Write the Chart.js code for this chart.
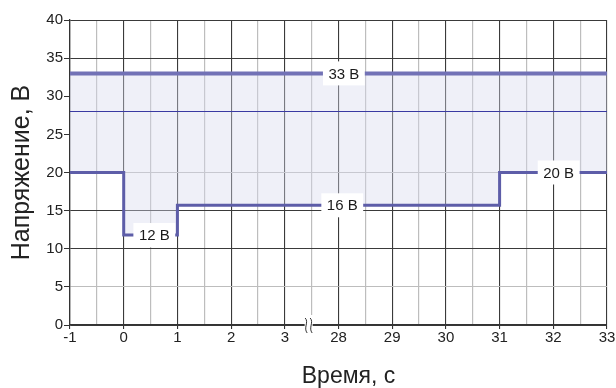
<!DOCTYPE html>
<html>
<head>
<meta charset="utf-8">
<script src="https://cdn.jsdelivr.net/npm/chart.js@4/dist/chart.umd.min.js"></script>
<style>
  html, body { margin: 0; padding: 0; background: #fff; }
  #wrap { width: 616px; height: 388px; }
</style>
</head>
<body>
<div id="wrap"><canvas id="chart" width="616" height="388"></canvas></div>
<script>
// Voltage over time, x axis broken between 3 s and 28 s
const xTickLabels = ['-1', '0', '1', '2', '3', '28', '29', '30', '31', '32', '33'];
const yTicks = [0, 5, 10, 15, 20, 25, 30, 35, 40];

const upperTime = [-1, 33];
const upperVolts = [33, 33];
const midTime = [-1, 33];
const midVolts = [28, 28];
const lowerTime = [-1, 0, 0, 1, 1, 31, 31, 33];
const lowerVolts = [20, 20, 11.8, 11.8, 15.7, 15.7, 20, 20];

const noteTexts = ['33 В', '16 В', '12 В', '20 В'];
const noteTime = [28.1, 28.07, 0.57, 32.1];
const noteVolts = [33, 15.7, 11.8, 20];

const X_TITLE = 'Время, с';

const BREAK_AT = 3.5;   // axis position of the break
const GAP = 24;         // seconds cut out of the axis

function pos(t) {
    return t > BREAK_AT ? t - GAP : t;
}

function toPoints(times, volts) {
    return times.map((t, i) => ({ x: pos(t), y: volts[i] }));
}

const FONT = '"Liberation Sans", Arial, Helvetica, sans-serif';

const notesPlugin = {
    id: 'notes',
    afterDatasetsDraw(chart) {
        const { ctx, scales } = chart;
        const xs = scales.x, ys = scales.y;
        ctx.save();
        ctx.font = '15px ' + FONT;
        ctx.textAlign = 'center';
        ctx.textBaseline = 'middle';
        noteTexts.forEach((txt, i) => {
            const cx = xs.getPixelForValue(pos(noteTime[i]));
            const cy = ys.getPixelForValue(noteVolts[i]);
            const w = ctx.measureText(txt).width + 11;
            ctx.fillStyle = '#fff';
            ctx.fillRect(cx - w / 2, cy - 12, w, 24);
            ctx.fillStyle = '#1a1a1a';
            ctx.fillText(txt, cx, cy + 1);
        });

        // break mark on the x axis
        const bx = xs.getPixelForValue(BREAK_AT) - 3;
        const by = ys.getPixelForValue(0);
        ctx.fillStyle = '#fff';
        ctx.fillRect(bx - 6, by - 10, 12, 9);
        ctx.fillRect(bx - 4, by - 2, 8, 4);
        ctx.strokeStyle = '#333';
        ctx.lineWidth = 1;
        [-2.5, 2.5].forEach(dx => {
            const x = bx + dx;
            ctx.beginPath();
            ctx.moveTo(x - 1, by - 7);
            ctx.bezierCurveTo(x + 3, by - 3, x - 3, by + 3, x + 1, by + 8);
            ctx.stroke();
        });

        // x axis title sits a little right of centre in the original
        ctx.font = '23px ' + FONT;
        ctx.fillStyle = '#222';
        ctx.fillText(X_TITLE, (xs.left + xs.right) / 2 + 10, 377);
        ctx.restore();
    }
};

new Chart(document.getElementById('chart'), {
    type: 'scatter',
    data: {
        datasets: [
            {
                label: 'lower',
                data: toPoints(lowerTime, lowerVolts),
                showLine: true,
                borderColor: '#5d5da8',
                borderWidth: 3,
                pointRadius: 0,
                fill: false,
                order: 1
            },
            {
                label: 'upper',
                data: toPoints(upperTime, upperVolts),
                showLine: true,
                borderColor: '#7272b6',
                borderWidth: 4,
                pointRadius: 0,
                fill: { target: 0 },
                backgroundColor: 'rgba(215, 218, 238, 0.4)',
                order: 2
            },
            {
                label: 'mid',
                data: toPoints(midTime, midVolts),
                showLine: true,
                borderColor: '#3a3aa2',
                borderWidth: 1.2,
                pointRadius: 0,
                fill: false,
                order: 0
            }
        ]
    },
    options: {
        responsive: false,
        animation: false,
        layout: { padding: { left: 0, right: 9, top: 20, bottom: 0 } },
        plugins: {
            legend: { display: false },
            tooltip: { enabled: false }
        },
        scales: {
            x: {
                type: 'linear',
                min: -1,
                max: 9,
                afterFit: s => { s.height = 63; },
                afterBuildTicks: s => {
                    const t = [];
                    for (let v = -1; v <= 9; v += 0.5) t.push({ value: v });
                    s.ticks = t;
                },
                border: { color: '#333', width: 1.3 },
                grid: {
                    color: c => Number.isInteger(c.tick.value) ? '#3a3a3a' : '#bdbdbd',
                    lineWidth: c => Number.isInteger(c.tick.value) ? 1.1 : 1.2,
                    tickLength: 4,
                    tickColor: c => Number.isInteger(c.tick.value) ? '#333' : 'rgba(0,0,0,0)'
                },
                ticks: {
                    autoSkip: false,
                    maxRotation: 0,
                    padding: 0,
                    color: '#222',
                    font: { family: FONT, size: 15 },
                    callback: v => Number.isInteger(v) ? xTickLabels[v + 1] : ''
                },
                title: { display: false }
            },
            y: {
                min: 0,
                max: 40,
                afterFit: s => { s.width = 70; },
                afterBuildTicks: s => { s.ticks = yTicks.map(v => ({ value: v })); },
                border: { color: '#333', width: 1.3 },
                grid: {
                    color: c => {
                        const v = c.tick.value;
                        if (v === 5 || v === 20) return '#bdbdbd';
                        if (v === 25 || v === 30) return 'rgba(0,0,0,0)';
                        return '#3a3a3a';
                    },
                    tickLength: 6,
                    tickColor: '#333'
                },
                ticks: {
                    padding: 1,
                    color: '#222',
                    font: { family: FONT, size: 15 }
                },
                title: {
                    display: true,
                    text: 'Напряжение, В',
                    color: '#222',
                    font: { family: FONT, size: 25, lineHeight: 1 },
                    padding: { top: 10, bottom: 0 }
                }
            }
        }
    },
    plugins: [notesPlugin]
});
</script>
</body>
</html>
